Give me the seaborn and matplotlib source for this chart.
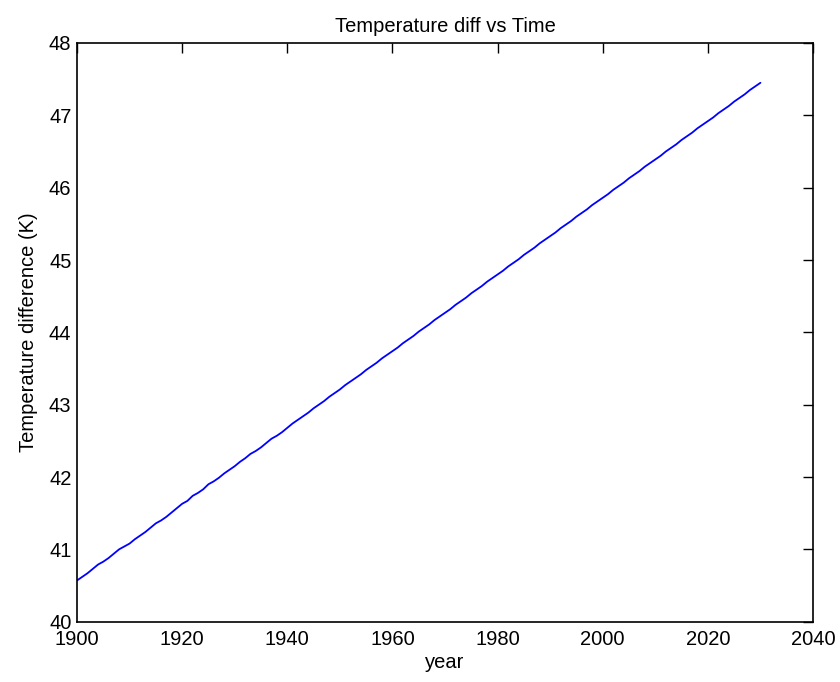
import numpy as np
import pandas as pd
import matplotlib
matplotlib.use("Agg")
import matplotlib.pyplot as plt
import seaborn as sns

years = list(range(1900, 2031))
temp_diff = [
    40.57, 40.62, 40.67, 40.73, 40.79, 40.83, 40.88, 40.94, 41.00, 41.04,
    41.08, 41.14, 41.19, 41.24, 41.30, 41.36, 41.40, 41.45, 41.51, 41.57,
    41.63, 41.67, 41.74, 41.78, 41.83, 41.90, 41.94, 41.99, 42.05, 42.10,
    42.15, 42.21, 42.26, 42.32, 42.36, 42.41, 42.47, 42.53, 42.57, 42.62,
    42.68, 42.74, 42.79, 42.84, 42.89, 42.95, 43.00, 43.05, 43.11, 43.16,
    43.21, 43.27, 43.32, 43.37, 43.42, 43.48, 43.53, 43.58, 43.64, 43.69,
    43.74, 43.79, 43.85, 43.90, 43.95, 44.01, 44.06, 44.11, 44.17, 44.22,
    44.27, 44.32, 44.38, 44.43, 44.48, 44.54, 44.59, 44.64, 44.70, 44.75,
    44.80, 44.85, 44.91, 44.96, 45.01, 45.07, 45.12, 45.17, 45.23, 45.28,
    45.33, 45.38, 45.44, 45.49, 45.54, 45.60, 45.65, 45.70, 45.76, 45.81,
    45.86, 45.91, 45.97, 46.02, 46.07, 46.13, 46.18, 46.23, 46.29, 46.34,
    46.39, 46.44, 46.50, 46.55, 46.60, 46.66, 46.71, 46.76, 46.82, 46.87,
    46.92, 46.97, 47.03, 47.08, 47.13, 47.19, 47.24, 47.29, 47.35, 47.40,
    47.45,
]
x_ticks = [1900, 1920, 1940, 1960, 1980, 2000, 2020, 2040]
y_ticks = [40, 41, 42, 43, 44, 45, 46, 47, 48]

sns.set_style("white")
plt.rcParams["font.family"] = ["Liberation Sans", "DejaVu Sans"]
plt.rcParams["text.color"] = "black"
plt.rcParams["axes.labelcolor"] = "black"

df = pd.DataFrame({"year": years, "temp": temp_diff})

fig = plt.figure(figsize=(8.4, 6.82), dpi=100)
ax = fig.add_axes([77 / 840, 1 - 621.7 / 682, 736 / 840, 578.7 / 682])
sns.lineplot(data=df, x="year", y="temp", color="blue", linewidth=1.3, ax=ax)

ax.set_xlim(1900, 2040)
ax.set_ylim(40, 48)
ax.set_xticks(x_ticks)
ax.set_yticks(y_ticks)
ax.tick_params(direction="in", length=7, width=1, colors="black",
               top=True, right=True, labelsize=14.5)
ax.tick_params(axis="y", pad=4)
ax.tick_params(axis="x", pad=6)
for s in ax.spines.values():
    s.set_color("black")
    s.set_linewidth(1.2)

ax.set_xlabel("year", fontsize=14.5, labelpad=3, color="black")
ax.set_ylabel("Temperature difference (K)", fontsize=14.5, labelpad=8, color="black")
ax.set_title("Temperature diff vs Time", fontsize=14.5, pad=8, color="black")

fig.savefig("out.png", dpi=100)
